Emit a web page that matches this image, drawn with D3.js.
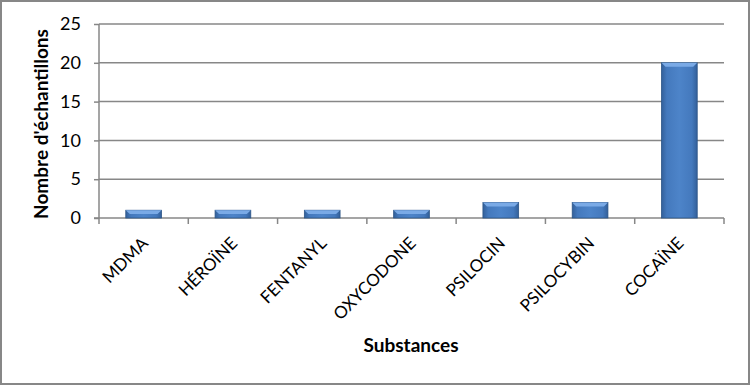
<!DOCTYPE html>
<html>
<head>
<meta charset="utf-8">
<script src="https://cdn.jsdelivr.net/npm/d3@7"></script>
<style>
  body { margin: 0; background: #fff; }
  text { font-family: Lato, "Open Sans", sans-serif; fill: #000; }
</style>
</head>
<body>
<div id="chart"></div>
<script>
// Chart data
const substances = ["MDMA", "HÉROÏNE", "FENTANYL", "OXYCODONE", "PSILOCIN", "PSILOCYBIN", "COCAÏNE"];
const counts = [1, 1, 1, 1, 2, 2, 20];
const yTicks = [0, 5, 10, 15, 20, 25];

const width = 751;
const height = 386;
const margin = { top: 24, right: 24, bottom: 168, left: 99 };

const svg = d3.select("#chart")
    .append("svg")
    .attr("width", width)
    .attr("height", height);

// Outer frame
svg.append("rect")
    .attr("x", 1)
    .attr("y", 1)
    .attr("width", width - 3)
    .attr("height", height - 3)
    .attr("fill", "#fff")
    .attr("stroke", "#878787")
    .attr("stroke-width", 2);

const x = d3.scaleBand()
    .domain(substances)
    .range([margin.left, width - margin.right - 3])
    .paddingInner(0.6)
    .paddingOuter(0.3);

const y = d3.scaleLinear()
    .domain([0, 25])
    .range([height - margin.bottom, margin.top]);

// Bar gradient
const defs = svg.append("defs");
const grad = defs.append("linearGradient")
    .attr("id", "barGrad")
    .attr("x1", "0").attr("x2", "1").attr("y1", "0").attr("y2", "0");
grad.append("stop").attr("offset", "0%").attr("stop-color", "#33609a");
grad.append("stop").attr("offset", "15%").attr("stop-color", "#4479bd");
grad.append("stop").attr("offset", "50%").attr("stop-color", "#4d84c9");
grad.append("stop").attr("offset", "85%").attr("stop-color", "#4479bd");
grad.append("stop").attr("offset", "100%").attr("stop-color", "#33609a");

// Gridlines
svg.append("g")
    .selectAll("line")
    .data(yTicks.filter(d => d > 0))
    .enter()
    .append("line")
    .attr("x1", margin.left)
    .attr("x2", x.range()[1])
    .attr("y1", d => y(d))
    .attr("y2", d => y(d))
    .attr("stroke", "#878787")
    .attr("stroke-width", 1.5);

// Y axis
const yAxis = svg.append("g")
    .attr("transform", `translate(${margin.left},0)`)
    .call(d3.axisLeft(y).tickValues(yTicks).tickSize(5).tickPadding(13));
yAxis.selectAll("line, path").attr("stroke", "#878787").attr("stroke-width", 1.5);
yAxis.select(".domain").attr("d", `M0,${y(0)}V${y(25)}`);
yAxis.selectAll("text").style("font-size", "18px").style("font-family", "Lato, sans-serif").attr("fill", "#000");

// X axis with ticks between categories
const xAxisG = svg.append("g");
const boundaries = d3.range(substances.length + 1).map(i => x.range()[0] + i * (x.range()[1] - x.range()[0]) / substances.length);
xAxisG.append("line")
    .attr("x1", x.range()[0] - 5)
    .attr("x2", x.range()[1])
    .attr("y1", y(0))
    .attr("y2", y(0))
    .attr("stroke", "#878787")
    .attr("stroke-width", 1.5);
xAxisG.selectAll(".tick")
    .data(boundaries)
    .enter()
    .append("line")
    .attr("x1", d => d)
    .attr("x2", d => d)
    .attr("y1", y(0))
    .attr("y2", y(0) + 6)
    .attr("stroke", "#878787")
    .attr("stroke-width", 1.5);

// Bars
const bars = svg.append("g")
    .selectAll("g")
    .data(substances.map((s, i) => ({ name: s, value: counts[i] })))
    .enter()
    .append("g");

bars.append("rect")
    .attr("x", d => x(d.name))
    .attr("y", d => y(d.value))
    .attr("width", x.bandwidth())
    .attr("height", d => y(0) - y(d.value))
    .attr("fill", "url(#barGrad)")
    .attr("stroke", "#2c5587")
    .attr("stroke-width", 0.8);

// Top bevel
bars.append("path")
    .attr("d", d => {
        const x0 = x(d.name), x1 = x0 + x.bandwidth(), t = y(d.value);
        const b = Math.min(4, (y(0) - t) / 2);
        return `M${x0},${t}L${x1},${t}L${x1 - 4},${t + b}L${x0 + 4},${t + b}Z`;
    })
    .attr("fill", "#7aaae6");

// Category labels
svg.append("g")
    .selectAll("text")
    .data(substances)
    .enter()
    .append("text")
    .attr("transform", d => `translate(${x(d) + x.bandwidth() / 2 - 3},${y(0) + 18}) rotate(-45)`)
    .attr("text-anchor", "end")
    .attr("dy", "0.7em")
    .style("font-size", "17px")
    .text(d => d);

// Axis titles
svg.append("text")
    .attr("transform", `translate(48,${(y(0) + y(25)) / 2 + 3}) rotate(-90)`)
    .attr("text-anchor", "middle")
    .style("font-size", "19px")
    .style("font-weight", "bold")
    .text("Nombre d'échantillons");

svg.append("text")
    .attr("x", 411)
    .attr("y", 352)
    .attr("text-anchor", "middle")
    .style("font-size", "19px")
    .style("font-weight", "bold")
    .text("Substances");
</script>
</body>
</html>
